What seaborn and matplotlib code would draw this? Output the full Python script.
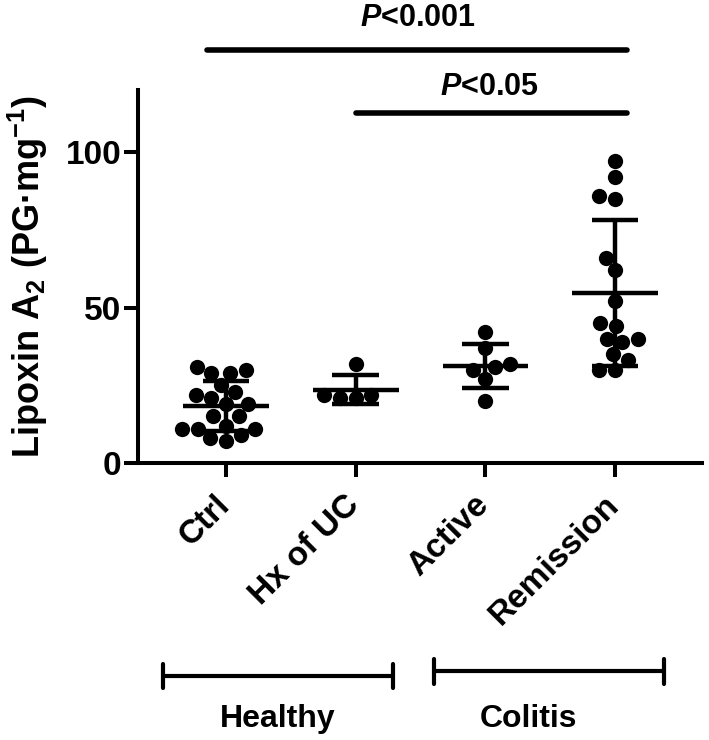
import numpy as np
import pandas as pd
import matplotlib
matplotlib.use("Agg")
import matplotlib.pyplot as plt
import matplotlib.transforms as mtransforms
import seaborn as sns

# ---- data ----
categories = ["Ctrl", "Hx of UC", "Active", "Remission"]
ctrl = [31, 30, 29, 29, 25, 23, 22, 21, 19, 19, 15, 15, 12, 11, 11, 11, 9, 8, 7]
hx_uc = [32, 22, 21, 21, 22]
active = [42, 37, 32, 30, 31, 27, 20]
remission = [97, 92, 85, 86, 66, 62, 52, 44, 45, 40, 39, 40, 33, 35, 30, 30]
group_labels = ["Healthy", "Colitis"]
p_labels = ["$P$<0.001", "$P$<0.05"]
yticks = [0, 50, 100]

sns.set_theme(style="white")
plt.rcParams["font.family"] = ["Liberation Sans", "DejaVu Sans"]
plt.rcParams["font.weight"] = "bold"
plt.rcParams["mathtext.fontset"] = "custom"
plt.rcParams["mathtext.rm"] = "Liberation Sans:bold"
plt.rcParams["mathtext.bf"] = "Liberation Sans:bold"
plt.rcParams["mathtext.it"] = "Liberation Sans:bold:italic"
for key in ["text.color", "axes.labelcolor", "xtick.color", "ytick.color", "axes.edgecolor"]:
    plt.rcParams[key] = "black"

values = [ctrl, hx_uc, active, remission]
df = pd.DataFrame({
    "group": np.concatenate([[c] * len(v) for c, v in zip(categories, values)]),
    "value": np.concatenate(values).astype(float),
})

fig = plt.figure(figsize=(7.09, 7.40), dpi=100)
ax = fig.add_axes([0.1946, 0.3743, 0.7954, 0.5041])

sns.swarmplot(data=df, x="group", y="value", order=categories, color="black",
              size=11, ax=ax, zorder=3)

stats = df.groupby("group")["value"].agg(["mean", "std"]).reindex(categories)
for i, (m, s) in enumerate(zip(stats["mean"], stats["std"])):
    ax.hlines(m, i - 0.33, i + 0.33, color="black", lw=3.2, zorder=4)
    ax.vlines(i, m - s, m + s, color="black", lw=3.2, zorder=4)
    ax.hlines([m - s, m + s], i - 0.18, i + 0.18, color="black", lw=3.2, zorder=4)

ax.set_xlim(-0.68, 3.67)
ax.set_ylim(0, 120)
ax.set_yticks(yticks)
ax.set_yticklabels([str(t) for t in yticks], fontsize=24, fontweight="bold")
ax.set_xticks(range(len(categories)))
ax.set_xticklabels([""] * len(categories))
label_tr = ax.get_xaxis_transform() + mtransforms.ScaledTranslation(
    -12 / 100, -26 / 100, fig.dpi_scale_trans)
for i, c in enumerate(categories):
    ax.text(i, 0, c, transform=label_tr, fontsize=24, fontweight="bold",
            rotation=45, ha="right", va="top", rotation_mode="anchor", clip_on=False)
ax.set_xlabel("")
ax.set_ylabel("Lipoxin A$_{2}$ (PG·mg$^{-1}$)", fontsize=26, fontweight="bold", labelpad=11)

sns.despine(ax=ax)
for side in ["left", "bottom"]:
    ax.spines[side].set_linewidth(2.9)
    ax.spines[side].set_color("black")
ax.tick_params(axis="both", which="major", length=10, width=2.9, color="black",
               left=True, bottom=True, pad=2)

# significance lines
ax.plot([-0.15, 3.09], [132.8, 132.8], color="black", lw=4, clip_on=False,
        solid_capstyle="round")
ax.text(1.48, 143, p_labels[0], ha="center", va="center", fontsize=22, fontweight="bold")
ax.plot([1.0, 3.09], [112.5, 112.5], color="black", lw=4, clip_on=False,
        solid_capstyle="round")
ax.text(2.03, 121, p_labels[1], ha="center", va="center", fontsize=22, fontweight="bold")

# group brackets
for (x0, x1, y, lab, tx) in [(-0.49, 1.29, -68.5, group_labels[0], 0.4),
                             (1.6, 3.38, -67.0, group_labels[1], 2.33)]:
    ax.plot([x0, x1], [y, y], color="black", lw=3, clip_on=False)
    ax.plot([x0, x0], [y - 4, y + 4], color="black", lw=3, clip_on=False,
            solid_capstyle="round")
    ax.plot([x1, x1], [y - 4, y + 4], color="black", lw=3, clip_on=False,
            solid_capstyle="round")
    ax.text(tx, -82.5, lab, ha="center", va="center", fontsize=23,
            fontweight="bold", clip_on=False)

fig.savefig("out.png", dpi=100)
